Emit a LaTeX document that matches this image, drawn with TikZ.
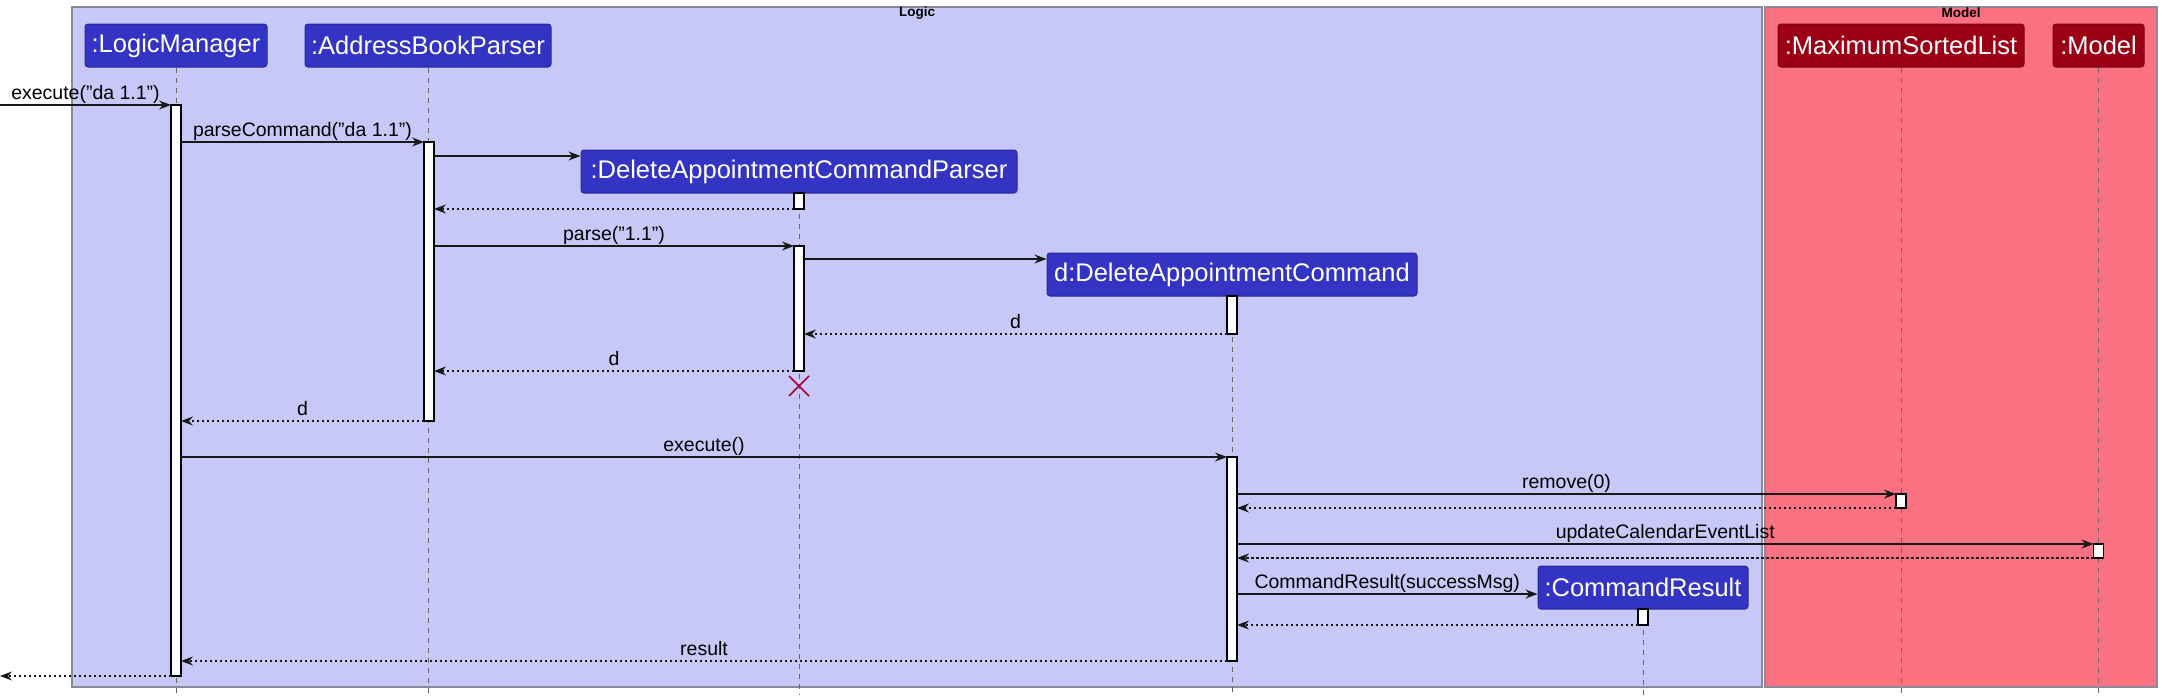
\documentclass[tikz,border=0pt]{standalone}
\usepackage{fontspec}
\setmainfont{Liberation Sans}
\usetikzlibrary{arrows.meta,fit,calc}
\definecolor{lbg}{HTML}{C8C8F8}
\definecolor{mbg}{HTML}{FA7182}
\definecolor{lpart}{HTML}{3333C4}
\definecolor{lpartb}{HTML}{28289A}
\definecolor{mpart}{HTML}{9C0014}
\definecolor{mpartb}{HTML}{7A0010}
\definecolor{grpb}{HTML}{8A8A9A}
\definecolor{lifec}{HTML}{666666}
\definecolor{msgc}{HTML}{181818}
\definecolor{xcol}{HTML}{A80036}
\newcommand\msgfnt{\fontsize{19.5}{23}\selectfont}
\newcommand\partfnt{\fontsize{25.5}{30}\selectfont}
\newcommand\grpfnt{\fontsize{13.5}{16}\selectfont\bfseries}
\tikzset{
  part/.style={rounded corners=3pt, minimum height=43pt, inner sep=0pt, text=white, font=\partfnt, line width=1pt},
  lpartbox/.style={part, fill=lpart, draw=lpartb},
  mpartbox/.style={part, fill=mpart, draw=mpartb},
  grp/.style={draw=grpb, line width=1.2pt},
  grptitle/.style={font=\grpfnt, inner sep=0pt},
  lifeline/.style={draw=lifec, line width=1pt, dash pattern=on 5pt off 5pt},
  act/.style={draw=black, fill=white, line width=1.3pt, inner sep=0pt, outer sep=0pt},
  msg/.style={draw=msgc, line width=1.3pt, -{Stealth[length=12pt,width=9pt,inset=4pt]}},
  ret/.style={msg, dash pattern=on 2.5pt off 2.5pt},
  lbl/.style={font=\msgfnt, anchor=base, inner sep=0pt, yshift=6pt, text=black},
  destroy/.style={draw=xcol, line width=1.5pt},
}
\begin{document}
\begin{tikzpicture}[x=1pt,y=-1pt]
\useasboundingbox (0,0) rectangle (2162,699);
\fill[white] (0,0) rectangle (2162,699);
% groups
\draw[grp, fill=lbg] (72,7) rectangle (1762,687);
\draw[grp, fill=mbg] (1765,7) rectangle (2157,687);
\node[grptitle] (tlogic) at (917,13) {Logic};
\node[grptitle] (tmodel) at (1961,13) {Model};
% participants
\node[lpartbox, minimum width=182pt] (lm) at (176,45.5) {:LogicManager};
\node[lpartbox, minimum width=246pt] (abp) at (428,45.5) {:AddressBookParser};
\node[lpartbox, minimum width=436pt] (dacp) at (799,171.5) {:DeleteAppointmentCommandParser};
\node[lpartbox, minimum width=370pt] (dac) at (1232,274.5) {d:DeleteAppointmentCommand};
\node[lpartbox, minimum width=210pt] (cr) at (1643,587.5) {:CommandResult};
\node[mpartbox, minimum width=246pt] (msl) at (1901,45.5) {:MaximumSortedList};
\node[mpartbox, minimum width=91pt] (mod) at (2098.5,45.5) {:Model};
% lifelines
\coordinate (bot) at (0,695);
\foreach \p in {lm,abp,dacp,dac,cr,msl,mod}{
  \draw[lifeline] (\p.south) -- (\p.south |- bot);
}
% activations
\node[act, fit={(171,105) (181,676)}] (lmA) {};
\node[act, fit={(424,142) (434,421)}] (abpA) {};
\node[act, fit={(794,193) (804,209)}] (dacpA) {};
\node[act, fit={(794,246) (804,371)}] (dacpB) {};
\node[act, fit={(1227,296) (1237,334)}] (dacA) {};
\node[act, fit={(1227,457) (1237,661)}] (dacB) {};
\node[act, fit={(1638,609) (1648,625)}] (crA) {};
\node[act, fit={(1896,494) (1906,508)}] (mslA) {};
\node[act, fit={(2093.5,544) (2103.5,558)}] (modA) {};
% coordinates for free ends and create messages
\coordinate (ext1) at (0,105);
\coordinate (ext2) at (0,676);
\coordinate (c3) at (0,156);
\coordinate (c6) at (0,259);
\coordinate (c16) at (0,594);
% messages
\draw[msg] (ext1) -- (lmA.north west) node[lbl, midway] {execute("da 1.1")};
\draw[msg] (lmA.east |- abpA.north) -- (abpA.north west) node[lbl, midway] {parseCommand("da 1.1")};
\draw[msg] (abpA.east |- c3) -- (dacp.west |- c3);
\draw[ret] (dacpA.south west) -- (abpA.east |- dacpA.south);
\draw[msg] (abpA.east |- dacpB.north) -- (dacpB.north west) node[lbl, midway] {parse("1.1")};
\draw[msg] (dacpB.east |- c6) -- (dac.west |- c6);
\draw[ret] (dacA.south west) -- (dacpB.east |- dacA.south) node[lbl, midway] {d};
\draw[ret] (dacpB.south west) -- (abpA.east |- dacpB.south) node[lbl, midway] {d};
\coordinate (xc) at (799,386);
\draw[destroy] ($(xc)+(-10,-10)$) -- ($(xc)+(10,10)$);
\draw[destroy] ($(xc)+(-10,10)$) -- ($(xc)+(10,-10)$);
\draw[ret] (abpA.south west) -- (lmA.east |- abpA.south) node[lbl, midway] {d};
\draw[msg] (lmA.east |- dacB.north) -- (dacB.north west) node[lbl, midway] {execute()};
\draw[msg] (dacB.east |- mslA.north) -- (mslA.north west) node[lbl, midway] {remove(0)};
\draw[ret] (mslA.south west) -- (dacB.east |- mslA.south);
\draw[msg] (dacB.east |- modA.north) -- (modA.north west) node[lbl, midway] {updateCalendarEventList};
\draw[ret] (modA.south west) -- (dacB.east |- modA.south);
\draw[msg] (dacB.east |- c16) -- (cr.west |- c16) node[lbl, midway] {CommandResult(successMsg)};
\draw[ret] (crA.south west) -- (dacB.east |- crA.south);
\draw[ret] (dacB.south west) -- (lmA.east |- dacB.south) node[lbl, midway] {result};
\draw[ret] (lmA.south west) -- (ext2);
\end{tikzpicture}
\end{document}
